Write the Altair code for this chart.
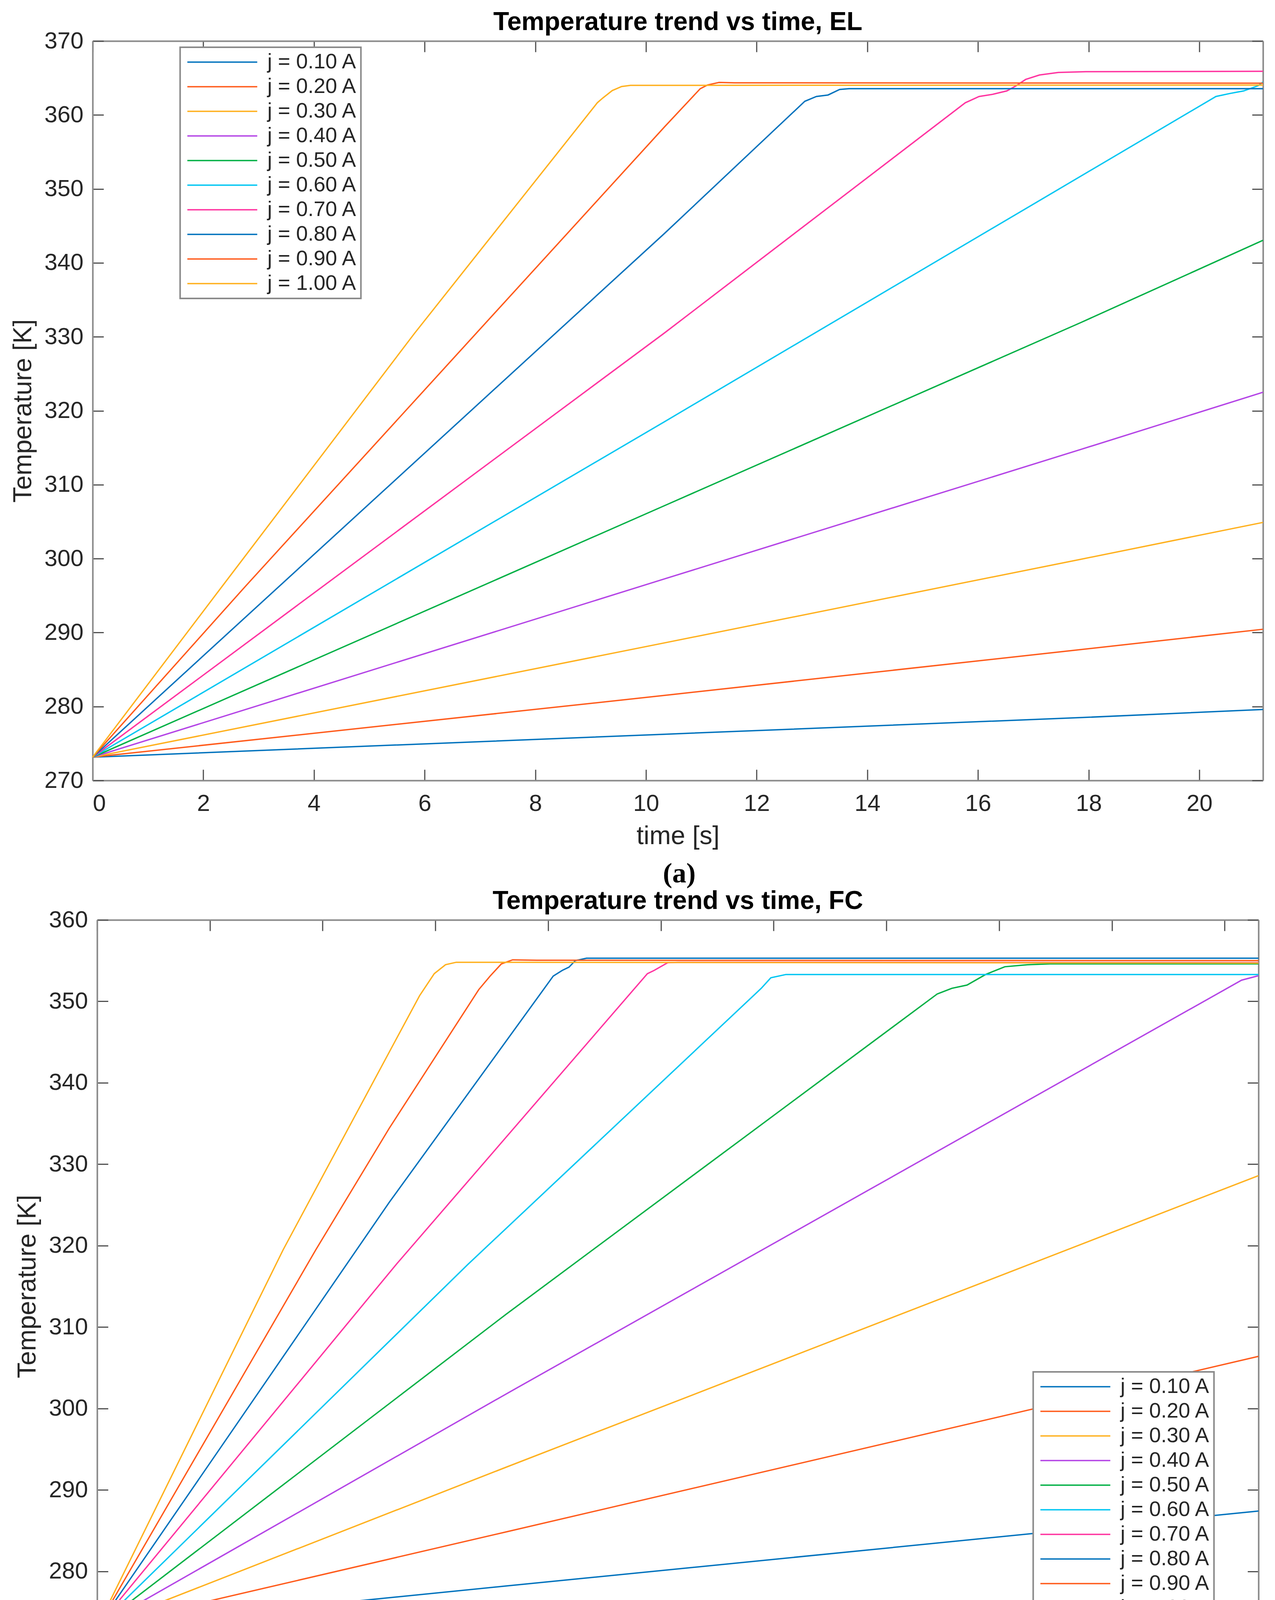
import altair as alt
import pandas as pd

# ---------------- data ----------------
LABELS = ["j = 0.10 A", "j = 0.20 A", "j = 0.30 A", "j = 0.40 A", "j = 0.50 A",
          "j = 0.60 A", "j = 0.70 A", "j = 0.80 A", "j = 0.90 A", "j = 1.00 A"]
COLORS = ["#0072BD", "#FF5B1C", "#FFB11F", "#B444E6", "#00B045",
          "#00C6F2", "#FF34A0", "#0072BD", "#FF5B1C", "#FFB11F"]

X_TICKS = [0, 2, 4, 6, 8, 10, 12, 14, 16, 18, 20]
EL_Y_TICKS = [270, 280, 290, 300, 310, 320, 330, 340, 350, 360, 370]
FC_Y_TICKS = [270, 280, 290, 300, 310, 320, 330, 340, 350, 360]

# (a) EL panel : time [s] / temperature [K]
el_t_010 = [0, 10.33, 17.85, 21.15]
el_T_010 = [273.15, 276.25, 278.5, 279.6]
el_t_020 = [0, 10.33, 17.85, 21.15]
el_T_020 = [273.15, 281.5, 287.7, 290.45]
el_t_030 = [0, 10.33, 17.85, 21.15]
el_T_030 = [273.15, 288.6, 299.9, 304.9]
el_t_040 = [0, 10.33, 17.85, 21.15]
el_T_040 = [273.15, 297.25, 314.75, 322.5]
el_t_050 = [0, 10.33, 17.85, 21.15]
el_T_050 = [273.15, 307.15, 331.9, 343.05]
el_t_060 = [0, 10.33, 20.30, 20.55, 20.80, 21.06, 21.15]
el_T_060 = [273.15, 318.5, 362.5, 362.9, 363.25, 363.95, 364.45]
el_t_070 = [0, 10.33, 15.77, 16.02, 16.27, 16.52, 16.69, 16.86, 17.11, 17.45, 17.95, 21.15]
el_T_070 = [273.15, 330.5, 361.65, 362.5, 362.8, 363.25, 363.95, 364.8, 365.4, 365.75, 365.85, 365.9]
el_t_080 = [0, 10.33, 12.87, 13.08, 13.29, 13.50, 13.67, 21.15]
el_T_080 = [273.15, 343.95, 361.85, 362.5, 362.7, 363.45, 363.55, 363.55]
el_t_090 = [0, 2.76, 10.33, 10.98, 11.11, 11.32, 11.6, 21.15]
el_T_090 = [273.15, 296.25, 358.35, 363.55, 364.05, 364.4, 364.35, 364.3]
el_t_100 = [0, 2.34, 5.82, 9.12, 9.22, 9.39, 9.56, 9.72, 21.15]
el_T_100 = [273.15, 296.25, 330.5, 361.65, 362.3, 363.3, 363.85, 364.0, 364.05]

# (b) FC panel
fc_t_010 = [0, 7.26, 20.6]
fc_T_010 = [273.15, 278.2, 287.4]
fc_t_020 = [0, 7.26, 20.6]
fc_T_020 = [273.15, 284.85, 306.4]
fc_t_030 = [0, 7.26, 20.6]
fc_T_030 = [273.15, 292.8, 328.6]
fc_t_040 = [0, 7.26, 20.3, 20.6]
fc_T_040 = [273.15, 301.8, 352.6, 353.15]
fc_t_050 = [0, 7.26, 11.42, 14.9, 15.16, 15.43, 15.76, 16.1, 16.5, 16.9, 20.6]
fc_T_050 = [273.15, 311.6, 333.0, 350.9, 351.6, 352.0, 353.3, 354.25, 354.5, 354.6, 354.6]
fc_t_060 = [0, 6.57, 11.42, 11.78, 11.95, 12.22, 20.6]
fc_T_060 = [273.15, 317.65, 349.25, 351.6, 352.9, 353.3, 353.3]
fc_t_070 = [0, 5.30, 9.76, 9.88, 10.12, 10.3, 20.6]
fc_T_070 = [273.15, 317.65, 353.4, 353.8, 354.75, 354.8, 354.75]
fc_t_080 = [0, 5.18, 8.09, 8.25, 8.37, 8.48, 8.68, 20.6]
fc_T_080 = [273.15, 325.3, 353.1, 353.8, 354.2, 355.0, 355.3, 355.3]
fc_t_090 = [0, 3.88, 5.18, 6.77, 6.97, 7.17, 7.37, 7.8, 20.6]
fc_T_090 = [273.15, 319.5, 334.4, 351.45, 353.1, 354.6, 355.1, 355.05, 355.0]
fc_t_100 = [0, 3.30, 5.18, 5.72, 5.98, 6.18, 6.37, 20.6]
fc_T_100 = [273.15, 319.5, 343.75, 350.7, 353.4, 354.5, 354.8, 354.7]

EL_TIMES = [el_t_010, el_t_020, el_t_030, el_t_040, el_t_050,
            el_t_060, el_t_070, el_t_080, el_t_090, el_t_100]
EL_TEMPS = [el_T_010, el_T_020, el_T_030, el_T_040, el_T_050,
            el_T_060, el_T_070, el_T_080, el_T_090, el_T_100]
FC_TIMES = [fc_t_010, fc_t_020, fc_t_030, fc_t_040, fc_t_050,
            fc_t_060, fc_t_070, fc_t_080, fc_t_090, fc_t_100]
FC_TEMPS = [fc_T_010, fc_T_020, fc_T_030, fc_T_040, fc_T_050,
            fc_T_060, fc_T_070, fc_T_080, fc_T_090, fc_T_100]


def to_frame(times, temps):
    rows = []
    for lab, ts, Ts in zip(LABELS, times, temps):
        for t, T in zip(ts, Ts):
            rows.append({"t": t, "T": T, "series": lab})
    return pd.DataFrame(rows)


FONT = "Liberation Sans"
INWARD = alt.ExprRef(expr="-28")

axis_style = dict(
    grid=False,
    domainColor="#8a8a8a", domainWidth=4,
    tickColor="#505050", tickWidth=3, tickSize=INWARD,
    labelFont=FONT, labelFontSize=60, labelColor="#262626",
    titleFont=FONT, titleFontSize=66, titleColor="#262626",
    titleFontWeight="normal",
)


def panel(df, title, xmax, ymax, yticks, w, h, lx, ly):
    xs = alt.Scale(domain=[0, xmax], nice=False, zero=False)
    ys = alt.Scale(domain=[270, ymax], nice=False, zero=False)
    lines = alt.Chart(df).mark_line(strokeWidth=3.5).encode(
        x=alt.X("t:Q", scale=xs,
                axis=alt.Axis(orient="bottom", values=X_TICKS, title="time [s]",
                              labelPadding=58, titlePadding=21, **axis_style)),
        y=alt.Y("T:Q", scale=ys,
                axis=alt.Axis(orient="left", values=yticks, title="Temperature [K]",
                              labelPadding=52, titlePadding=20, **axis_style)),
        color=alt.Color("series:N",
                        scale=alt.Scale(domain=LABELS, range=COLORS),
                        legend=alt.Legend(
                            orient="none", legendX=lx, legendY=ly, title=None,
                            symbolType="stroke", symbolSize=32041,
                            symbolStrokeWidth=3.5, symbolOffset=7.5,
                            labelFont=FONT, labelFontSize=54, labelColor="#262626",
                            labelLimit=500, clipHeight=58,
                            labelExpr="datum.label + '\u00a0'",
                            labelOffset=24, rowPadding=5, padding=9,
                            strokeColor="#8a8a8a", fillColor="white")),
    )
    mirror = alt.Chart(df).mark_line(strokeOpacity=0).encode(
        x=alt.X("t:Q", scale=xs,
                axis=alt.Axis(orient="top", values=X_TICKS, labels=False, title=None,
                              **axis_style)),
        y=alt.Y("T:Q", scale=ys,
                axis=alt.Axis(orient="right", values=yticks, labels=False, title=None,
                              **axis_style)),
        detail="series:N",
    )
    return alt.layer(lines, mirror).resolve_axis(
        x="independent", y="independent"
    ).properties(
        width=w, height=h,
        title=alt.TitleParams(title, font=FONT, fontSize=66, fontWeight="bold",
                              color="#000000", anchor="middle", frame="group",
                              offset=-16),
    )


def tag(text, h, dy):
    return alt.Chart(pd.DataFrame({"tag": [text]})).mark_text(
        font="Liberation Serif", fontSize=72, fontWeight="bold", color="#000000",
        align="center", baseline="middle", dy=dy,
    ).encode(text="tag:N").properties(width=120, height=h)


panel_a = panel(to_frame(EL_TIMES, EL_TEMPS), "Temperature trend vs time, EL",
                21.15, 370, EL_Y_TICKS, 2997, 1893, 224, 16)
panel_b = panel(to_frame(FC_TIMES, FC_TEMPS), "Temperature trend vs time, FC",
                20.6, 360, FC_Y_TICKS, 2974, 1876, 2397, 1157)

chart = alt.vconcat(
    panel_a, tag("(a)", 98, 14), panel_b, tag("(b)", 98, 14),
    spacing=0, center=True,
).resolve_scale(color="independent").resolve_legend(color="independent").properties(
    padding={"left": 17, "top": 15, "right": 0, "bottom": 0}
).configure_view(strokeWidth=0).configure(background="white")

try:
    chart.configure_legend(strokeWidth=4).save(
        "out.html", embed_options={"renderer": "svg", "actions": False})
except Exception:
    chart.save("out.html", embed_options={"renderer": "svg", "actions": False})
